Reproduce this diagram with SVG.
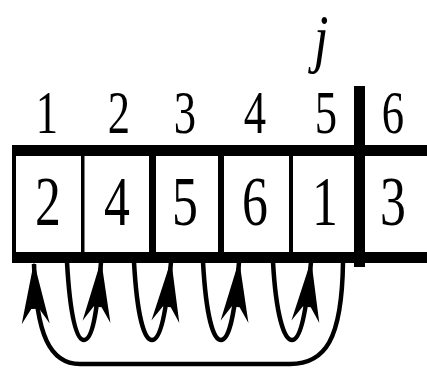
<svg xmlns="http://www.w3.org/2000/svg" width="427" height="368" viewBox="0 0 427 368">
<style>
.t{font-family:"Liberation Serif","Times New Roman",serif;fill:#000;text-anchor:middle}
.idx{font-size:62px}
.val{font-size:70px}
.j{font-size:66px;font-style:italic}
.bar{fill:#000}
.conn{fill:none;stroke:#000;stroke-width:4.5}
</style>
<defs>
<marker id="ah" markerUnits="userSpaceOnUse" orient="auto" viewBox="-70 -20 80 40" refX="0" refY="0" markerWidth="80" markerHeight="40" overflow="visible">
<path d="M 2 0 L -60 -14 L -45 -4 L -45 4 L -60 14 Z" fill="#000"/>
</marker>
</defs>
<rect width="427" height="368" fill="#fff"/>
<g id="pointer">
<text class="t j" transform="translate(321,60) scale(0.8,1)">j</text>
</g>
<g id="indices">
<text class="t idx" transform="translate(47,133) scale(0.72,1)">1</text>
<text class="t idx" transform="translate(119,133) scale(0.72,1)">2</text>
<text class="t idx" transform="translate(185,133) scale(0.72,1)">3</text>
<text class="t idx" transform="translate(255,133) scale(0.72,1)">4</text>
<text class="t idx" transform="translate(326,133) scale(0.72,1)">5</text>
<text class="t idx" transform="translate(393,133) scale(0.72,1)">6</text>
</g>
<g id="frame">
<rect class="bar" x="12" y="145" width="415" height="11"/>
<rect class="bar" x="12" y="252" width="415" height="11"/>
<rect class="bar" x="12" y="145" width="4" height="118"/>
<rect class="bar" x="81" y="145" width="3.5" height="118"/>
<rect class="bar" x="149" y="145" width="7" height="118"/>
<rect class="bar" x="218" y="145" width="6" height="118"/>
<rect class="bar" x="289" y="145" width="4" height="118"/>
<rect class="bar" x="354" y="86" width="11" height="181"/>
</g>
<g id="cell1"><text class="t val" transform="translate(48,225) scale(0.74,1)">2</text></g>
<g id="cell2"><text class="t val" transform="translate(117,225) scale(0.74,1)">4</text></g>
<g id="cell3"><text class="t val" transform="translate(185,225) scale(0.74,1)">5</text></g>
<g id="cell4"><text class="t val" transform="translate(255,225) scale(0.74,1)">6</text></g>
<g id="cell5"><text class="t val" transform="translate(325,225) scale(0.74,1)">1</text></g>
<g id="cell6"><text class="t val" transform="translate(393,225) scale(0.74,1)">3</text></g>
<g id="connectors">
<path class="conn" marker-end="url(#ah)" d="M 67 262 C 70 315, 76 340, 84 340 C 92 340, 97 315, 101 262"/>
<path class="conn" marker-end="url(#ah)" d="M 134 262 C 137 315, 144 340, 152 340 C 160 340, 166 315, 171 262"/>
<path class="conn" marker-end="url(#ah)" d="M 203 262 C 206 315, 213 340, 221 340 C 229 340, 235 315, 239 262"/>
<path class="conn" marker-end="url(#ah)" d="M 273 262 C 276 315, 284 340, 292 340 C 300 340, 306 315, 311 262"/>
<path class="conn" marker-end="url(#ah)" d="M 343 262 C 342 340, 325 364, 290 364 L 80 364 C 50 364, 36 335, 34 264"/>
</g>
</svg>
